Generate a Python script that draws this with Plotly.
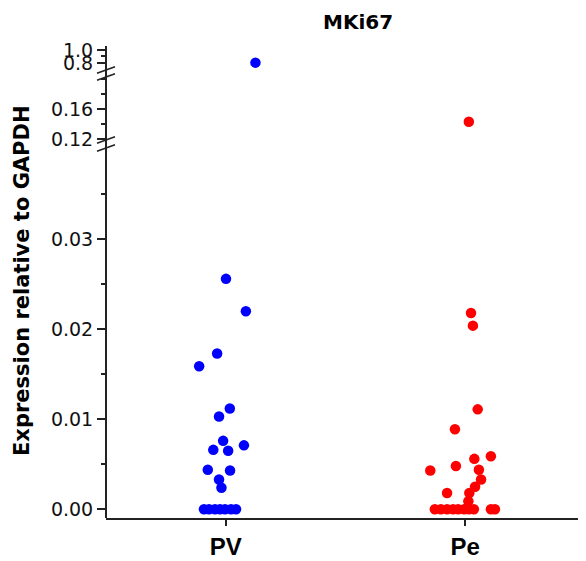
import plotly.graph_objects as go

# ---------------- data ----------------
categories = ["PV", "Pe"]
pv_values = [0.805, 0.0256, 0.0220, 0.0173, 0.0159, 0.0112, 0.0103, 0.0076, 0.0066,
             0.0065, 0.0071, 0.0044, 0.0043, 0.0033, 0.0024,
             0, 0, 0, 0, 0, 0, 0]
pv_jitter = [0.124, 0.001, 0.084, -0.036, -0.111, 0.017, -0.028, -0.011, -0.052,
             0.010, 0.076, -0.075, 0.018, -0.028, -0.018,
             -0.091, -0.070, -0.045, -0.024, -0.003, 0.022, 0.043]
pe_values = [0.143, 0.0218, 0.0204, 0.0111, 0.0089, 0.0059, 0.0056, 0.0048, 0.0043,
             0.0044, 0.0033, 0.0025, 0.0018, 0.0018, 0.0009,
             0, 0, 0, 0, 0, 0, 0, 0, 0, 0]
pe_jitter = [0.015, 0.024, 0.032, 0.052, -0.043, 0.107, 0.038, -0.039, -0.146,
             0.057, 0.066, 0.041, -0.076, 0.017, 0.013,
             -0.127, -0.102, -0.076, -0.051, -0.030, -0.005, 0.015, 0.036, 0.107, 0.124]
y_ticks_low = [0.00, 0.01, 0.02, 0.03]
y_ticks_mid = [0.12, 0.16]
y_ticks_top = [0.8, 1.0]
groups = [(pv_values, pv_jitter, "#0000FF"), (pe_values, pe_jitter, "#FF0000")]

# page has 8px body margin: figure coordinates = page coordinates - 8
OFF = 8
W, H = 578, 553
L, R, T, B = 106 - OFF, 1, 46 - OFF, 553 - (518 - OFF)
ph = H - T - B
pw = W - L - R


def py(ypx):  # page y pixel -> paper fraction
    return (H - B - (ypx - OFF)) / ph


def px(xpx):  # page x pixel -> paper fraction
    return (xpx - OFF - L) / pw


# broken axis segments: (axis, lower, upper, range, domain)
segments = [
    ("y", -1.0, 0.05, [-0.00097, 0.04014], [0, py(148)]),
    ("y2", 0.05, 0.5, [0.11867, 0.2027], [py(140), py(77)]),
    ("y3", 0.5, 2.0, [0.692, 1.0615], [py(70), 1]),
]

fig = go.Figure()
for gi, (vals, jit, col) in enumerate(groups):
    for ax, lo, hi, rng, dom in segments:
        xs = [gi + j for v, j in zip(vals, jit) if lo <= v < hi]
        ys = [v for v in vals if lo <= v < hi]
        if not ys:
            continue
        fig.add_trace(go.Scatter(x=xs, y=ys, mode="markers", yaxis=ax, xaxis="x",
                                 marker=dict(color=col, size=10.5, line=dict(width=0)),
                                 showlegend=False, cliponaxis=False, hoverinfo="skip"))

tickfont = dict(family="DejaVu Sans", size=19, color="#111")
axcol = "#222"
common = dict(showgrid=False, zeroline=False, showline=False, ticks="outside",
              ticklen=8, tickwidth=1.5, tickcolor=axcol, tickfont=tickfont,
              anchor="x", automargin=False, tickmode="array")
minor_common = dict(ticks="outside", ticklen=4, tickcolor=axcol, tickwidth=1.5)

fig.update_layout(
    width=W, height=H, margin=dict(l=L, r=R, t=T, b=B, autoexpand=False),
    plot_bgcolor="white", paper_bgcolor="white",
    xaxis=dict(range=[-0.5, 1.5], tickmode="array", tickvals=[0, 1],
               ticktext=[f"<b>{c}</b>" for c in categories],
               showgrid=False, zeroline=False, showline=True, linecolor=axcol, linewidth=2,
               ticks="outside", ticklen=6, tickwidth=1.5, tickcolor=axcol,
               tickfont=dict(family="Liberation Sans", size=24, color="#000"),
               domain=[0, 1], automargin=False),
    yaxis=dict(domain=segments[0][4], range=segments[0][3], tickvals=y_ticks_low,
               tickformat=".2f", minor=dict(tickvals=[0.005, 0.015, 0.025, 0.035], **minor_common),
               **common),
    yaxis2=dict(domain=segments[1][4], range=segments[1][3], tickvals=y_ticks_mid,
                tickformat=".2f", minor=dict(tickvals=[0.14, 0.18, 0.20], **minor_common),
                **common),
    yaxis3=dict(domain=segments[2][4], range=segments[2][3], tickvals=y_ticks_top,
                tickformat=".1f", minor=dict(tickvals=[0.9], **minor_common),
                **common),
)

# continuous y-axis line
fig.add_shape(type="line", xref="paper", yref="paper", x0=0, x1=0, y0=0, y1=1,
              line=dict(color=axcol, width=2))
# break marks
for yc in (140, 148, 70, 77):
    fig.add_shape(type="line", xref="paper", yref="paper",
                  x0=px(106 - 9), x1=px(106 + 9), y0=py(yc + 3.3), y1=py(yc - 3.3),
                  line=dict(color=axcol, width=1.5))

fig.add_annotation(text="<b>MKi67</b>", xref="paper", yref="paper", x=px(358), y=py(OFF),
                   showarrow=False, xanchor="center", yanchor="top",
                   font=dict(family="DejaVu Sans", size=20, color="#000"))
fig.add_annotation(text="<b>Expression relative to GAPDH</b>", xref="paper", yref="paper",
                   x=px(OFF), y=py(281), textangle=-90, showarrow=False,
                   xanchor="left", yanchor="middle",
                   font=dict(family="DejaVu Sans", size=21, color="#000"))

fig.write_html("out.html")
